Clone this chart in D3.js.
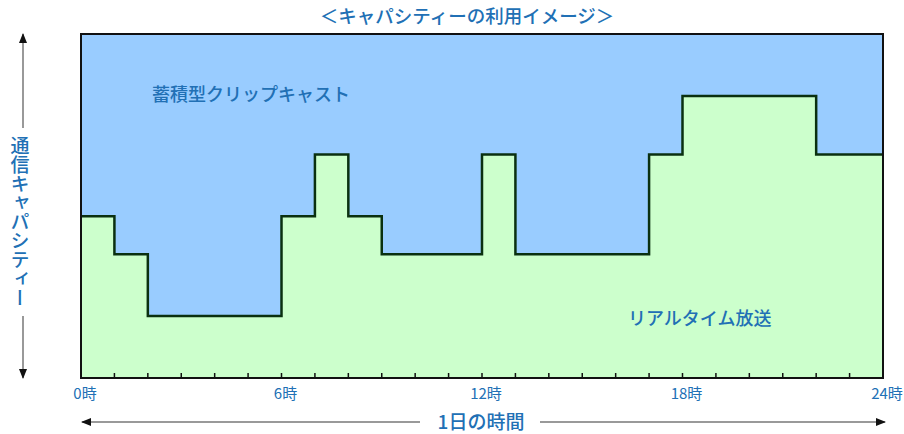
<!DOCTYPE html>
<html>
<head>
<meta charset="utf-8">
<script src="https://cdn.jsdelivr.net/npm/d3@7"></script>
<style>
  body { margin: 0; background: #fff; }
  svg text { font-family: "Noto Sans CJK JP", "Noto Sans", sans-serif; }
</style>
</head>
<body>
<svg id="chart" width="904" height="434"></svg>
<script>
// step boundaries (hour) and realtime-broadcast share of capacity (%)
const stepHours = [0, 1, 2, 6, 7, 8, 9, 12, 13, 17, 18, 22]
const realtimeShare = [47, 36, 18, 47, 65, 47, 36, 65, 36, 65, 82, 65]
const tickLabels = ['0時', '6時', '12時', '18時', '24時']
const labelHours = [0, 6, 12, 18, 24]

const title = '＜キャパシティーの利用イメージ＞'
const yTitle = '通信キャパシティー'
const xTitle = '1日の時間'
const upperLabel = '蓄積型クリップキャスト'
const lowerLabel = 'リアルタイム放送'

const textColor = '#2170b5'
const plotLeft = 81, plotRight = 883, plotTop = 34, plotBottom = 378

const svg = d3.select('#chart')

const x = d3.scaleLinear().domain([0, 24]).range([plotLeft, plotRight])
const y = d3.scaleLinear().domain([0, 100]).range([plotBottom, plotTop])

// series with closing point at 24h
let data = stepHours.map((h, i) => [h, realtimeShare[i]])
data.push([24, realtimeShare[realtimeShare.length - 1]])

// arrow markers
let defs = svg.append('defs')
defs.append('marker')
    .attr('id', 'arrowHead')
    .attr('viewBox', '0 0 10 10')
    .attr('refX', 9)
    .attr('refY', 5)
    .attr('markerWidth', 10)
    .attr('markerHeight', 10)
    .attr('markerUnits', 'userSpaceOnUse')
    .attr('orient', 'auto-start-reverse')
  .append('path')
    .attr('d', 'M0,1 L10,5 L0,9 Z')
    .attr('fill', '#111')

// capacity background (stored clip cast)
svg.append('rect')
    .attr('x', plotLeft)
    .attr('y', plotTop)
    .attr('width', plotRight - plotLeft)
    .attr('height', plotBottom - plotTop)
    .attr('fill', '#99ccff')

// realtime broadcast area
let area = d3.area()
    .curve(d3.curveStepAfter)
    .x(d => x(d[0]))
    .y0(y(0))
    .y1(d => y(d[1]))

svg.append('path')
    .datum(data)
    .attr('d', area)
    .attr('fill', '#ccffcc')

let line = d3.line()
    .curve(d3.curveStepAfter)
    .x(d => x(d[0]))
    .y(d => y(d[1]))

svg.append('path')
    .datum(data)
    .attr('d', line)
    .attr('fill', 'none')
    .attr('stroke', '#0a3010')
    .attr('stroke-width', 2.5)

// frame
svg.append('rect')
    .attr('x', plotLeft)
    .attr('y', plotTop)
    .attr('width', plotRight - plotLeft)
    .attr('height', plotBottom - plotTop)
    .attr('fill', 'none')
    .attr('stroke', '#111')
    .attr('stroke-width', 2)

// hourly inner ticks
svg.append('g')
  .selectAll('line')
  .data(d3.range(1, 24))
  .join('line')
    .attr('x1', d => x(d))
    .attr('x2', d => x(d))
    .attr('y1', plotBottom)
    .attr('y2', plotBottom - 5)
    .attr('stroke', '#111')
    .attr('stroke-width', 1.5)

// hour labels
svg.append('g')
  .selectAll('text')
  .data(labelHours)
  .join('text')
    .attr('x', d => x(d) + 4)
    .attr('y', 399)
    .attr('text-anchor', 'middle')
    .attr('font-size', 15)
    .attr('fill', textColor)
    .text((d, i) => tickLabels[i])

// title
svg.append('text')
    .attr('x', 467)
    .attr('y', 23)
    .attr('text-anchor', 'middle')
    .attr('font-size', 18.5)
    .attr('font-weight', 500)
    .attr('fill', textColor)
    .text(title)

// inner labels
svg.append('text')
    .attr('x', 152)
    .attr('y', 101)
    .attr('font-size', 18)
    .attr('font-weight', 500)
    .attr('fill', textColor)
    .text(upperLabel)

svg.append('text')
    .attr('x', 628)
    .attr('y', 325)
    .attr('font-size', 18)
    .attr('font-weight', 500)
    .attr('fill', textColor)
    .text(lowerLabel)

// y axis title with arrows
svg.append('line')
    .attr('x1', 23).attr('x2', 23)
    .attr('y1', 128).attr('y2', 34)
    .attr('stroke', '#777').attr('stroke-width', 1.5)
    .attr('marker-end', 'url(#arrowHead)')
svg.append('line')
    .attr('x1', 23).attr('x2', 23)
    .attr('y1', 316).attr('y2', 378)
    .attr('stroke', '#777').attr('stroke-width', 1.5)
    .attr('marker-end', 'url(#arrowHead)')

svg.append('text')
    .attr('x', 20)
    .attr('y', 136)
    .attr('font-size', 19)
    .attr('font-weight', 500)
    .attr('fill', textColor)
    .style('writing-mode', 'vertical-rl')
    .style('text-orientation', 'upright')
    .text(yTitle)

// x axis title with arrows
svg.append('line')
    .attr('x1', 420).attr('x2', 82)
    .attr('y1', 422).attr('y2', 422)
    .attr('stroke', '#777').attr('stroke-width', 1.5)
    .attr('marker-end', 'url(#arrowHead)')
svg.append('line')
    .attr('x1', 540).attr('x2', 885)
    .attr('y1', 422).attr('y2', 422)
    .attr('stroke', '#777').attr('stroke-width', 1.5)
    .attr('marker-end', 'url(#arrowHead)')

svg.append('text')
    .attr('x', 481)
    .attr('y', 429)
    .attr('text-anchor', 'middle')
    .attr('font-size', 19)
    .attr('font-weight', 500)
    .attr('fill', textColor)
    .text(xTitle)
</script>
</body>
</html>
